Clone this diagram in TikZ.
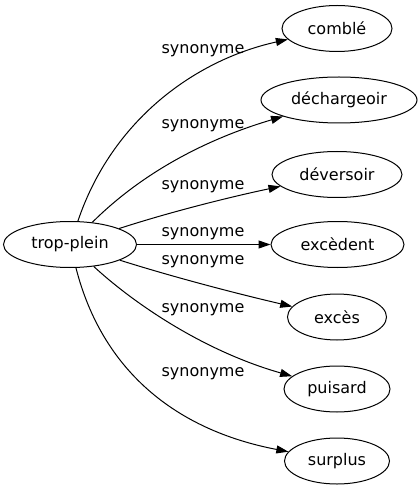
\documentclass[tikz,border=0pt]{standalone}
\usepackage{fontspec}
\setmainfont{DejaVu Sans}
\usetikzlibrary{arrows.meta,shapes.geometric}
\begin{document}
\begin{tikzpicture}[x=0.75pt,y=-0.75pt,
  every node/.style={font=\fontsize{12pt}{14pt}\selectfont},
  word/.style={draw,ellipse,inner sep=0pt,line width=0.75pt,minimum height=34.5pt},
  lbl/.style={inner sep=0pt},
  rel/.style={line width=0.75pt,-{Triangle[length=9pt,width=6pt]}}]
\useasboundingbox (0,0) rectangle (419,491);
\node[word,minimum width=99.75pt] (tp) at (70,244.5) {trop-plein};
\node[word,minimum width=82.5pt] (n1) at (337,28.5) {comblé};
\node[word,minimum width=117pt] (n2) at (339,100) {déchargeoir};
\node[word,minimum width=97.5pt] (n3) at (337,174.5) {déversoir};
\node[word,minimum width=99.75pt] (n4) at (337.5,244.5) {excèdent};
\node[word,minimum width=74.25pt] (n5) at (337,317) {excès};
\node[word,minimum width=79.5pt] (n6) at (337,389) {puisard};
\node[word,minimum width=78.75pt] (n7) at (337,461) {surplus};
\node[lbl] (l1) at (203,51) {synonyme};
\node[lbl] (l2) at (203,126) {synonyme};
\node[lbl] (l3) at (203,187) {synonyme};
\node[lbl] (l4) at (203,234) {synonyme};
\node[lbl] (l5) at (203,262) {synonyme};
\node[lbl] (l6) at (203,310) {synonyme};
\node[lbl] (l7) at (203,374) {synonyme};
\draw[rel] (tp) .. controls (112,120) and (195,60) .. (n1);
\draw[rel] (tp) .. controls (150,165) and (220,135) .. (n2);
\draw[rel] (tp) .. controls (170,212) and (230,197) .. (n3);
\draw[rel] (tp) -- (n4);
\draw[rel] (tp) .. controls (170,276) and (230,292) .. (n5);
\draw[rel] (tp) .. controls (130,300) and (200,350) .. (n6);
\draw[rel] (tp) .. controls (102,370) and (175,430) .. (n7);
\end{tikzpicture}
\end{document}
